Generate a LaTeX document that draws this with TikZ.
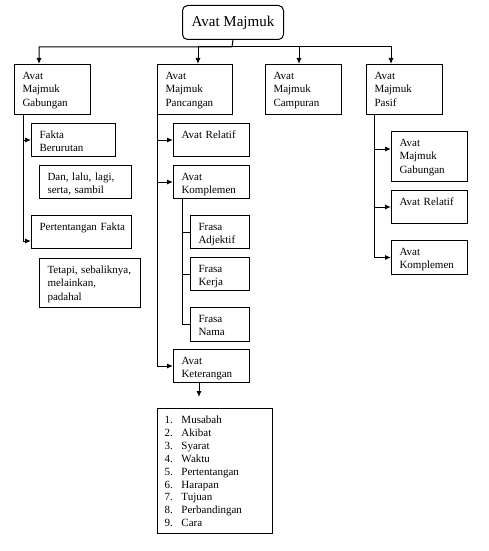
\documentclass[tikz,border=0pt]{standalone}
\usepackage{fontspec}
\setmainfont{Liberation Serif}
\usepackage{tikz}
\usetikzlibrary{arrows.meta}

\begin{document}
\begin{tikzpicture}[
    x=1pt, y=-1pt,      % work in pixels of the page, y going down
    >={Latex[length=6pt,width=5pt]},
    line width=1pt,
    box/.style = {draw, anchor=north west, inner xsep=8pt, inner ysep=0pt,
                  align=left, text height=15pt, font=\fontsize{11}{13.3}\selectfont},
    wide/.style = {box, text width=60pt},      % the 76px boxes
    small/.style = {box, text width=43pt}      % the Frasa boxes
  ]
    \path[use as bounding box, fill=white] (0,0) rectangle (489,551);

    \node[draw, rounded corners=5pt, minimum width=101pt, minimum height=34pt,
          anchor=north west, font=\fontsize{15}{18}\selectfont] (title) at (182,5) {Avat Majmuk};

    % first row
    \node[wide, text depth=35pt] (gab) at (14,64) {Avat\\Majmuk\\Gabungan};
    \node[wide, text depth=35pt, text width=59pt] (pan) at (157,64) {Avat\\Majmuk\\Pancangan};
    \node[wide, text depth=35pt] (cam) at (265,64) {Avat\\Majmuk\\Campuran};
    \node[wide, text depth=35pt] (pas) at (366,64) {Avat\\Majmuk\\Pasif};

    % under Gabungan
    \node[box, text width=68pt, text depth=18pt] (fakta) at (31,123) {Fakta\\Berurutan};
    \node[box, text width=76pt, text depth=18pt] (dan) at (39,165) {Dan, lalu, lagi,\\serta, sambil};
    \node[box, text width=84pt, text depth=18pt] (pert) at (31,215) {\mbox{Pertentangan Fakta}};
    \node[box, text width=85pt, text depth=34pt] (tetapi) at (39,258) {\mbox{Tetapi, sebaliknya,}\\melainkan,\\padahal};

    % under Pancangan
    \node[wide, text depth=18pt] (relatif) at (173,123) {Avat Relatif};
    \node[wide, text depth=18pt] (komp) at (173,165) {Avat\\Komplemen};
    \node[small, text depth=18pt] (adj) at (190,215) {Frasa\\Adjektif};
    \node[small, text depth=18pt] (kerja) at (190,257) {Frasa\\Kerja};
    \node[small, text depth=19pt] (nama) at (190,307) {Frasa\\Nama};
    \node[wide, text depth=18pt] (ket) at (173,349) {Avat\\Keterangan};
    \node[box, text width=101pt, text depth=110pt, inner xsep=7pt,
          font=\fontsize{11}{12.9}\selectfont] (list) at (157,408)
      {\makebox[17pt][l]{1.}Musabah\\
       \makebox[17pt][l]{2.}Akibat\\
       \makebox[17pt][l]{3.}Syarat\\
       \makebox[17pt][l]{4.}Waktu\\
       \makebox[17pt][l]{5.}Pertentangan\\
       \makebox[17pt][l]{6.}Harapan\\
       \makebox[17pt][l]{7.}Tujuan\\
       \makebox[17pt][l]{8.}Perbandingan\\
       \makebox[17pt][l]{9.}Cara};

    % under Pasif
    \node[wide, text depth=35pt] (gab2) at (391,131) {Avat\\Majmuk\\Gabungan};
    \node[wide, text depth=18pt] (rel2) at (391,190) {Avat Relatif};
    \node[wide, text depth=19pt] (komp2) at (391,240) {Avat\\Komplemen};

    \coordinate (bar) at (232,47);
    \draw[->] (title.south) -- (bar) -| ([xshift=25pt]gab.north west);
    \draw[->] (bar) -| ([xshift=41pt]pan.north west);
    \draw[->] (bar) -| ([xshift=34pt]cam.north west);
    \draw[->] (bar) -| ([xshift=25pt]pas.north west);

    \draw[->] ([xshift=9pt]gab.south west) |- (fakta.west);
    \draw[->] ([xshift=9pt]gab.south west) |- ([yshift=8pt]pert.south west);

    \draw[->] (pan.south west) |- (relatif.west);
    \draw[->] (pan.south west) |- (komp.west);
    \draw[->] (pan.south west) |- (ket.west);
    \draw ([xshift=9pt]komp.south west) |- (adj.west);
    \draw ([xshift=9pt]komp.south west) |- (kerja.west);
    \draw ([xshift=9pt]komp.south west) |- (nama.west);
    \draw[->, shorten >=11pt] ([xshift=26pt]ket.south west) -- ([xshift=42pt]list.north west);

    \draw[->] ([xshift=8pt]pas.south west) |- ([yshift=-18pt]gab2.north west);
    \draw[->] ([xshift=8pt]pas.south west) |- (rel2.west);
    \draw[->] ([xshift=8pt]pas.south west) |- (komp2.west);
  \end{tikzpicture}
\end{document}
